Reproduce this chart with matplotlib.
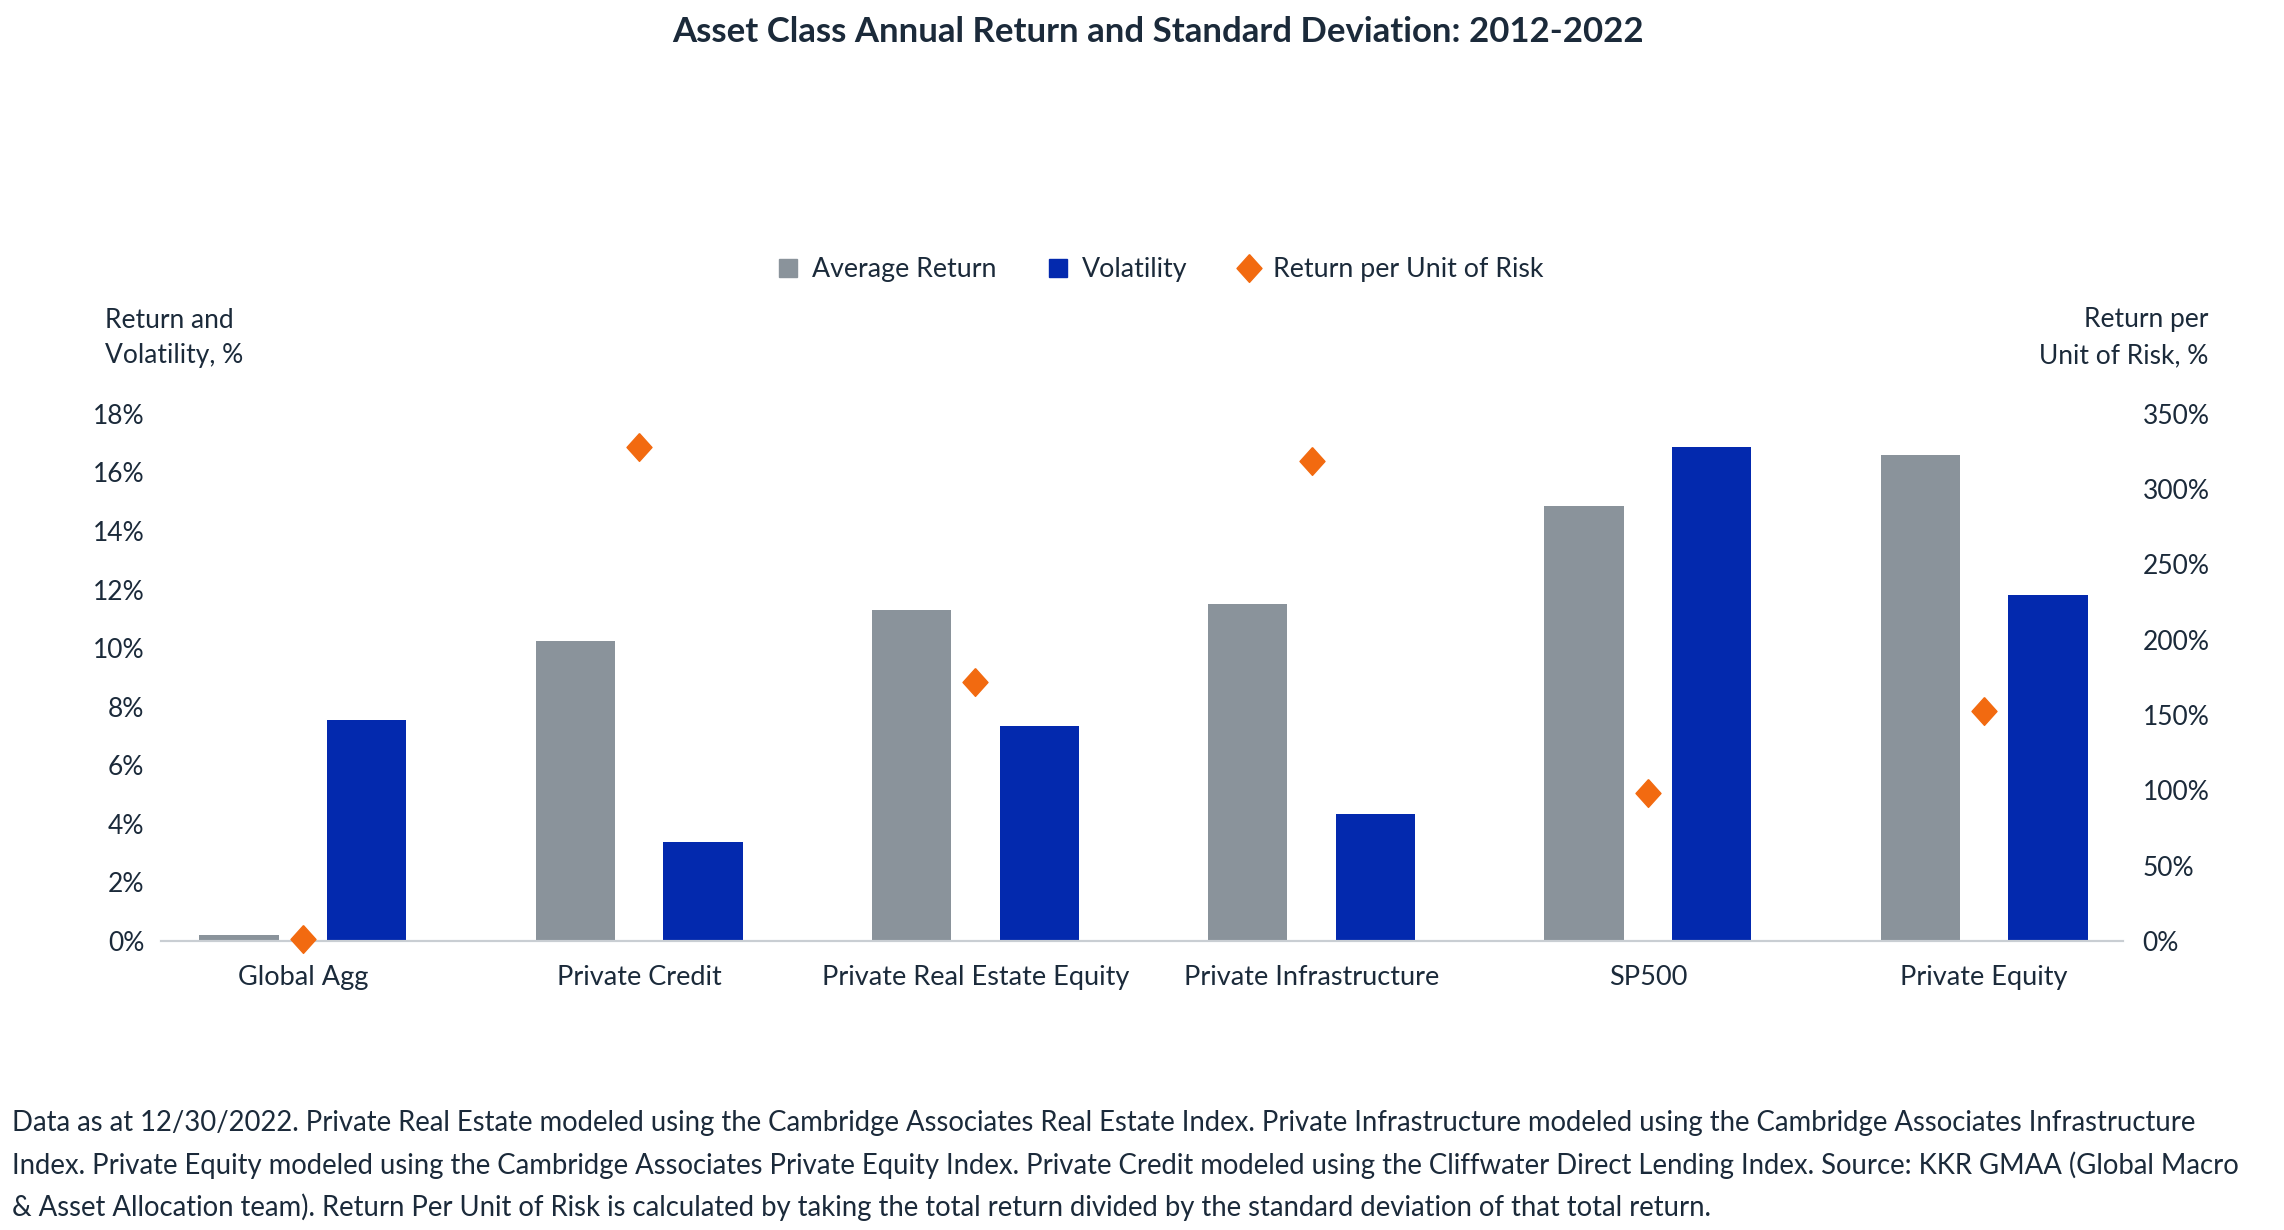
import matplotlib.pyplot as plt
from matplotlib.lines import Line2D
import numpy as np

plt.rcParams["font.family"] = ["Lato", "DejaVu Sans"]

# data
categories = ["Global Agg", "Private Credit", "Private Real Estate Equity",
              "Private Infrastructure", "SP500", "Private Equity"]
avg_return = [0.2, 10.25, 11.3, 11.5, 14.85, 16.6]
volatility = [7.55, 3.37, 7.33, 4.34, 16.87, 11.8]
ret_per_risk = [1, 328, 172, 319, 98, 153]

left_ticks = [0, 2, 4, 6, 8, 10, 12, 14, 16, 18]
right_ticks = [0, 50, 100, 150, 200, 250, 300, 350]

GRAY = "#8A939B"
BLUE = "#0329AE"
ORANGE = "#F26A10"
TXT = "#1B2A3A"

diamond = [(0, 1), (0.9, 0), (0, -1), (-0.9, 0), (0, 1)]

fig = plt.figure(figsize=(22.84, 12.30), dpi=100)
ax = fig.add_axes([0.0705, 0.235, 0.859, 0.4285])
ax2 = ax.twinx()

x = np.arange(len(categories))
w = 0.236
off = 0.19
ax.bar(x - off, avg_return, w, color=GRAY, zorder=2)
ax.bar(x + off, volatility, w, color=BLUE, zorder=2)
ax2.plot(x, ret_per_risk, linestyle="none", marker=diamond, markersize=20,
         color=ORANGE, zorder=3, clip_on=False)

ax.set_xlim(-0.422, 5.413)
ax.set_ylim(0, 18)
ax2.set_ylim(0, 350)
ax.set_yticks(left_ticks)
ax.set_yticklabels([f"{t}%" for t in left_ticks])
ax2.set_yticks(right_ticks)
ax2.set_yticklabels([f"{t}%" for t in right_ticks])
ax.set_xticks(x)
ax.set_xticklabels(categories)

for a in (ax, ax2):
    for s in ["top", "left", "right"]:
        a.spines[s].set_visible(False)
    a.spines["bottom"].set_color("#C9CED3")
    a.spines["bottom"].set_linewidth(1.5)
ax.tick_params(axis="y", length=0, pad=12, labelsize=19, labelcolor=TXT)
ax2.tick_params(axis="y", length=0, pad=14, labelsize=19, labelcolor=TXT)
ax.tick_params(axis="x", length=0, pad=17, labelsize=19.5, labelcolor=TXT)

fig.text(0.507, 0.974, "Asset Class Annual Return and Standard Deviation: 2012-2022",
         ha="center", va="center", fontsize=25, color=TXT, fontweight="bold")

fig.text(105 / 2284, 1 - 338 / 1230, "Return and\nVolatility, %", ha="left",
         va="center", fontsize=19, color=TXT, linespacing=1.55)
fig.text(2208 / 2284, 1 - 338 / 1230, "Return per\nUnit of Risk, %", ha="right",
         va="center", fontsize=19, color=TXT, linespacing=1.55, multialignment="right")

handles = [
    Line2D([], [], linestyle="none", marker="s", markersize=13, color=GRAY),
    Line2D([], [], linestyle="none", marker="s", markersize=13, color=BLUE),
    Line2D([], [], linestyle="none", marker=diamond, markersize=20, color=ORANGE),
]
labels = ["Average Return", "Volatility", "Return per Unit of Risk"]
fig.legend(handles, labels, loc="center", bbox_to_anchor=(0.508, 1 - 270 / 1230),
           ncol=3, frameon=False, fontsize=19.3, labelcolor=TXT,
           handlelength=0.8, handletextpad=0.5, columnspacing=1.9)

footer = [
    "Data as at 12/30/2022. Private Real Estate modeled using the Cambridge Associates Real Estate Index. Private Infrastructure modeled using the Cambridge Associates Infrastructure",
    "Index. Private Equity modeled using the Cambridge Associates Private Equity Index. Private Credit modeled using the Cliffwater Direct Lending Index. Source: KKR GMAA (Global Macro",
    "& Asset Allocation team). Return Per Unit of Risk is calculated by taking the total return divided by the standard deviation of that total return.",
]
for i, line in enumerate(footer):
    fig.text(12 / 2284, 1 - (1123 + 42 * i) / 1230, line, ha="left", va="center",
             fontsize=19.8, color=TXT)

fig.savefig("out.png", dpi=100)
